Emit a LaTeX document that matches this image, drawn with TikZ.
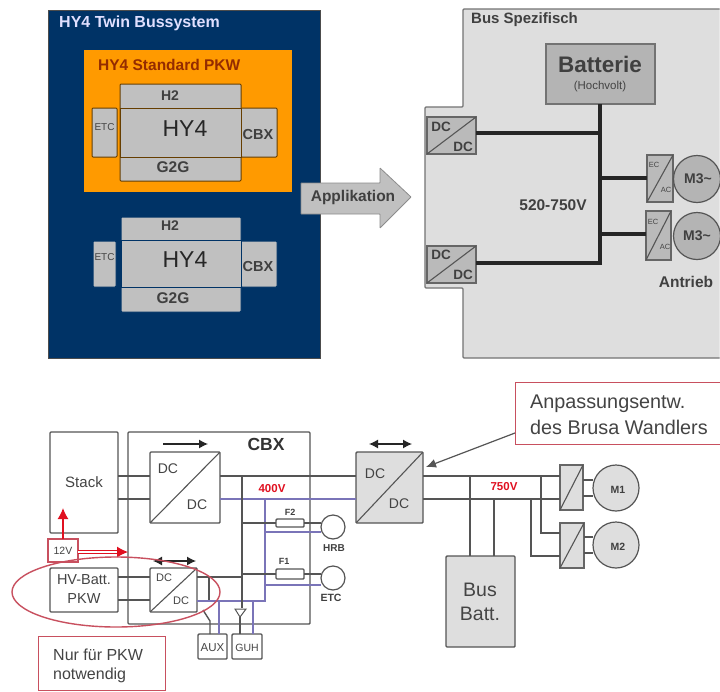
\documentclass[tikz,border=0pt]{standalone}
\usepackage{fontspec}
\setmainfont{Liberation Sans}
\usetikzlibrary{arrows.meta,shapes.geometric}
\definecolor{navy}{HTML}{003366}
\definecolor{amber}{HTML}{FF9A00}
\definecolor{midgr}{HTML}{C0C0C0}
\definecolor{ltgr}{HTML}{DEDEDE}
\definecolor{batgr}{HTML}{B4B4B4}
\definecolor{ln}{HTML}{555555}
\definecolor{tx}{HTML}{444444}
\definecolor{bluel}{HTML}{7A74B8}
\definecolor{pinkl}{HTML}{C8505F}
\definecolor{redl}{HTML}{E01020}
\newcommand\bx[6]{%
  \pgfmathsetmacro\bxw{#4-#2}\pgfmathsetmacro\bxh{#5-#3}%
  \pgfmathsetmacro\bxx{(#2+#4)/2}\pgfmathsetmacro\bxy{(#3+#5)/2}%
  \node[#6,minimum width=\bxw pt,minimum height=\bxh pt,inner sep=0pt,outer sep=0pt] (#1) at (\bxx,\bxy) {};}
\tikzset{
  hybox/.style={draw=#1,fill=midgr,line width=1pt,rounded corners=1pt},
  hybox/.default={black!65},
  conv/.style={draw=black!60,fill=#1,line width=1.3pt},
  conv/.default={midgr!90!gray},
  plain/.style={draw=ln,fill=white,line width=1.4pt,rounded corners=1pt},
  grayplain/.style={draw=ln,fill=ltgr,line width=1.4pt,rounded corners=1pt},
  note/.style={draw=pinkl,fill=white,line width=1.3pt},
  wire/.style={draw=ln,line width=1.4pt},
  bluew/.style={draw=bluel,line width=1.3pt},
  thick bus/.style={draw=black!85,line width=3.2pt},
  diag/.style={draw=ln,line width=1.1pt},
  dirarr/.style={draw=black!85,line width=1.2pt,-{Latex[length=9pt,width=9pt]}},
  dirboth/.style={draw=black!85,line width=1.2pt,{Latex[length=9pt,width=9pt]}-{Latex[length=9pt,width=9pt]}},
  lbl/.style={inner sep=0pt,text=tx,font=\fontsize{#1}{#1}\selectfont},
  lblb/.style={inner sep=0pt,text=black!75,font=\fontsize{#1}{#1}\selectfont\bfseries},
  motor/.style={circle,draw=ln,fill=#1,line width=1.2pt,inner sep=0pt,outer sep=0pt},
}
\begin{document}
\begin{tikzpicture}[x=1pt,y=-1pt]
\useasboundingbox[fill=white] (0,0) rectangle (720,691);
% --- HY4 twin panel
\bx{twin}{48}{10}{320}{358}{fill=navy,draw=black!70,line width=0.6pt}
\node[lblb=16,text=white!88!blue,anchor=west] (twint) at (59,23) {HY4 Twin Bussystem};
\bx{std}{84}{50}{292}{192}{fill=amber}
\node[lblb=15.5,text=black!60!amber!70!red,anchor=west] (stdt) at (98,65) {HY4 Standard PKW};
% upper stack
\bx{etca}{92}{108}{117}{157}{hybox={black!60!amber}}
\bx{cbxa}{241}{108}{277}{157}{hybox={black!60!amber}}
\bx{tall}{120}{84}{241}{181}{hybox={black!60!amber}}
\bx{hya}{120}{108}{241}{157}{hybox={black!60!amber},rounded corners=0pt}
\node[lblb=14] (h2a) at (170,96) {H2};
\node[lblb=15.5] (g2a) at (173,167) {G2G};
\node[inner sep=0pt,text=black!85,font=\fontsize{23}{23}\selectfont] (hy4a) at (185,129) {HY4};
\node[lblb=14.5] (cba) at (258,135) {CBX};
\node[lbl=10] (eta) at (104.5,127) {ETC};
% lower stack
\bx{etcb}{93}{241}{116}{287}{hybox={navy}}
\bx{cbxb}{241}{241}{277}{287}{hybox={navy}}
\bx{tallb}{121}{217}{241}{312}{hybox={navy}}
\bx{hyb}{121}{240}{241}{287}{hybox={navy},rounded corners=0pt}
\node[lblb=14] (h2b) at (170,226) {H2};
\node[lblb=15.5] (g2b) at (173,298) {G2G};
\node[inner sep=0pt,text=black!85,font=\fontsize{23}{23}\selectfont] (hy4b) at (185,260) {HY4};
\node[lblb=14.5] (cbb) at (258,267) {CBX};
\node[lbl=10] (etb) at (104.5,257) {ETC};
% Applikation arrow
\draw[fill=midgr,draw=black!45,line width=0.8pt,rounded corners=0.5pt]
  (301,183) -- (380,183) -- (380,168) -- (411,197) -- (380,228) -- (380,214) -- (301,214) -- cycle;
\node[lblb=15.5] (appl) at (353,197) {Applikation};
% --- Bus panel
\draw[fill=ltgr,draw=black!55,line width=1.2pt,rounded corners=1pt]
  (719.5,9) -- (463,9) -- (463,107) -- (425,107) -- (425,288) -- (463,288) -- (463,358) -- (719.5,358);
\node[lblb=15,anchor=west] (bust) at (471,20) {Bus Spezifisch};
\bx{batt}{546}{44}{655}{104}{fill=batgr,draw=black!55,line width=1.2pt}
\node[lblb=22.5] (battt) at (600,64) {Batterie};
\node[lbl=11.5] (battu) at (600,87) {(Hochvolt)};
\bx{dca}{427}{117}{476}{154}{conv}
\bx{dcb}{427}{246}{476}{283}{conv}
\bx{eca}{647}{155}{673}{202}{conv}
\bx{ecb}{646}{211}{671}{260}{conv}
\node[motor=batgr,minimum size=47pt] (ma) at (697,179) {};
\node[motor=batgr,minimum size=47pt] (mb) at (697,236) {};
\draw[thick bus] (batt.south -| 600,0) -- (600,263) -- (dcb.east |- 0,263);
\draw[thick bus] (dca.east |- 0,133) -- (600,133);
\draw[thick bus] (600,178) -- (eca.west |- 0,178);
\draw[thick bus] (600,234) -- (ecb.west |- 0,234);
\foreach \n in {dca,dcb,eca,ecb}{\draw[diag] (\n.south west) -- (\n.north east);}
\node[lblb=13.5] (ta) at (441,127) {DC};
\node[lblb=13.5] (tb) at (463,147) {DC};
\node[lblb=13.5] (tc) at (441,255) {DC};
\node[lblb=13.5] (td) at (463,275) {DC};
\node[lbl=7.5] (te) at (654,165) {EC};
\node[lbl=7.5] (tf) at (666,190) {AC};
\node[lbl=7.5] (tg) at (653,222) {EC};
\node[lbl=7.5] (th) at (665,247) {AC};
\node[lblb=14] (tm1) at (698,179) {M3\textasciitilde};
\node[lblb=14] (tm2) at (697,236) {M3\textasciitilde};
\node[lblb=15.5] (tv) at (553,205) {520-750V};
\node[lblb=15.5] (tan) at (686,282) {Antrieb};
% --- Bottom schematic
\bx{stack}{50}{432}{118}{533}{plain}
\node[lbl=15] (stackt) at (84,482) {Stack};
\bx{cbx}{128}{432}{310}{624}{plain}
\node[lblb=17.5,text=black!80] (cbxt) at (266,444) {CBX};
\bx{dc1}{150}{452}{220}{523}{plain}
\bx{dc2}{150}{568}{197}{612}{plain}
\bx{dc3}{356}{452}{423}{523}{grayplain}
\bx{hv}{50}{568}{118}{612}{plain}
\bx{tw}{48}{539}{78}{562}{draw=pinkl,fill=white,line width=1.3pt}
\bx{aux}{198}{634}{227}{659}{plain}
\bx{guh}{232}{634}{262}{659}{plain}
\bx{f2}{276}{519}{304}{527}{plain}
\bx{f1}{276}{569}{304}{579}{plain}
\node[motor=white,minimum size=24pt] (hrb) at (333,527) {};
\node[motor=white,minimum size=24pt] (etc) at (333,578) {};
\bx{busb}{446}{556}{515}{647}{grayplain}
\bx{cv1}{560}{465}{583}{510}{conv=ltgr}
\bx{cv2}{560}{523}{584}{568}{conv=ltgr}
\node[motor=ltgr,minimum size=46pt] (m1) at (616,488) {};
\node[motor=ltgr,minimum size=46pt] (m2) at (616,545) {};
% wires
\draw[wire] (stack.east |- 0,476) -- (dc1.west |- 0,476);
\draw[wire] (stack.east |- 0,499) -- (dc1.west |- 0,499);
\draw[wire] (hv.east |- 0,577) -- (dc2.west |- 0,577);
\draw[wire] (hv.east |- 0,600) -- (dc2.west |- 0,600);
\draw[bluew] (dc1.east |- 0,499) -- (dc3.west |- 0,499);
\draw[bluew] (265,499) -- (265,601) -- (dc2.east |- 0,601);
\draw[bluew] (265,532) -- (hrb.west |- 0,532);
\draw[bluew] (265,585) -- (etc.west |- 0,585);
\draw[bluew] (219,601) -- (aux.north -| 219,0);
\draw[bluew] (253,601) -- (guh.north -| 253,0);
\draw[wire] (dc1.east |- 0,476) -- (dc3.west |- 0,476);
\draw[wire] (242,476) -- (242,608);
\draw[wire] (242,523) -- (f2.west |- 0,523);
\draw[wire] (f2.east |- 0,523) -- (hrb.west |- 0,523);
\draw[wire] (242,574) -- (f1.west |- 0,574);
\draw[wire] (f1.east |- 0,574) -- (etc.west |- 0,574);
\draw[wire] (dc2.east |- 0,577) -- (242,577);
\draw[wire] (209,577) -- (209,600);
\draw[wire] (203,610) -- (210,621) -- (aux.north -| 210,0);
\coordinate (trip) at (240,617);
\draw[wire,fill=white,line width=1pt] (235,609) -- (246,609) -- (trip) -- cycle;
\draw[wire] (trip) -- (guh.north -| 240,0);
\draw[wire] (dc3.east |- 0,476) -- (cv1.west |- 0,476);
\draw[wire] (dc3.east |- 0,499) -- (cv1.west |- 0,499);
\draw[wire] (470,476) -- (busb.north -| 470,0);
\draw[wire] (494,499) -- (busb.north -| 494,0);
\draw[wire] (541,476) -- (541,533) -- (cv2.west |- 0,533);
\draw[wire] (531,499) -- (531,556) -- (cv2.west |- 0,556);
\foreach \y in {480,496}{\draw[wire] (cv1.east |- 0,\y) -- (m1.west |- 0,\y);}
\foreach \y in {537,553}{\draw[wire] (cv2.east |- 0,\y) -- (m2.west |- 0,\y);}
\foreach \n in {dc1,dc2,dc3,cv1,cv2}{\draw[diag] (\n.south west) -- (\n.north east);}
% direction arrows
\coordinate (a1s) at (163,444); \coordinate (a1e) at (208,444);
\draw[dirarr] (a1s) -- (a1e);
\coordinate (a2s) at (153,561); \coordinate (a2e) at (196,561);
\draw[dirboth] (a2s) -- (a2e);
\coordinate (a3s) at (369,444); \coordinate (a3e) at (412,444);
\draw[dirboth] (a3s) -- (a3e);
% red parts
\draw[draw=redl,line width=1.4pt,-{Latex[length=11pt,width=11pt]}] (tw.north -| 63,0) -- (stack.south -| 63,0) -- (63,508);
\draw[draw=redl,line width=1pt,double=white,double distance=2.5pt,-{Latex[length=11pt,width=11pt]}] (tw.east |- 0,552) -- (cbx.west |- 0,552);
\node[ellipse,draw=pinkl,line width=1.4pt,minimum width=208pt,minimum height=70pt,inner sep=0pt] (ell) at (116,592) {};
\node[note,anchor=north west,minimum width=127pt,minimum height=54pt] (nur) at (38,636) {};
\node[lbl=16,anchor=west] (nur1) at (53,655) {Nur für PKW};
\node[lbl=16,anchor=west] (nur2) at (53,675) {notwendig};
\node[note,anchor=north west,minimum width=206pt,minimum height=62pt] (anp) at (515,382) {};
\node[lbl=19.8,anchor=west] (anp1) at (530,404) {Anpassungsentw.};
\node[lbl=19.8,anchor=west] (anp2) at (530,427) {des Brusa Wandlers};
\coordinate (anpt) at (426,467);
\draw[draw=ln,line width=1.2pt,-{Latex[length=10pt,width=9pt]}] (anp.west |- 0,433) -- (anpt);
% labels
\node[lbl=14] at (168,469) (l1) {DC};
\node[lbl=14] at (197,505) (l2) {DC};
\node[lbl=11] at (164,578) (l3) {DC};
\node[lbl=11] at (181,601) (l4) {DC};
\node[lbl=14] at (375,474) (l5) {DC};
\node[lbl=14] at (399,504) (l6) {DC};
\node[lbl=14.5,align=center] at (84,589) (l7) {HV-Batt.\\[4pt]PKW};
\node[lbl=10.5,text=tx] at (63,551) (l8) {12V};
\node[lbl=11.5] at (212.5,648) (l9) {AUX};
\node[lbl=10.5] at (247,648) (l10) {GUH};
\node[lblb=9] at (290,512) (l11) {F2};
\node[lblb=9] at (284,561) (l12) {F1};
\node[lblb=10] at (334,548) (l13) {HRB};
\node[lblb=10.5] at (331,598) (l14) {ETC};
\node[lblb=11.5,text=redl] at (272,489) (l15) {400V};
\node[lblb=11.5,text=redl] at (504,487) (l16) {750V};
\node[lblb=10.5] at (618,490) (l17) {M1};
\node[lblb=10.5] at (618,547) (l18) {M2};
\node[lbl=19.5,align=center] at (480,602) (l19) {Bus\\[5pt]Batt.};
\end{tikzpicture}
\end{document}
